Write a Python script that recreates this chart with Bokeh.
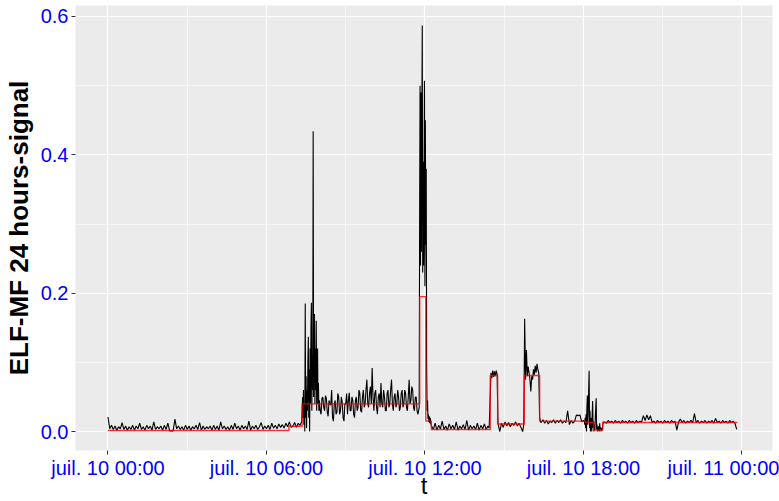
import numpy as np
from bokeh.plotting import figure
from bokeh.models import FixedTicker, Range1d
from bokeh.embed import file_html
from bokeh.resources import INLINE

# ---------------- data ----------------
x_ticks = [0, 6, 12, 18, 24]
x_minor = [3, 9, 15, 21]
x_tick_labels = ["juil. 10 00:00", "juil. 10 06:00", "juil. 10 12:00",
                 "juil. 10 18:00", "juil. 11 00:00"]
y_ticks = [0.0, 0.2, 0.4, 0.6]
y_minor = [0.1, 0.3, 0.5]

# black signal, in segments: start hour, step (minutes), values
night_start, night_step = 0.0, 4
night_vals = [
    0.021, 0.004, 0.009, 0.003, 0.008, 0.002, 0.007, 0.004, 0.013, 0.003, 0.008, 0.002, 0.007, 0.003, 0.009,
    0.002, 0.008, 0.004, 0.012, 0.003, 0.007, 0.002, 0.009, 0.004, 0.008, 0.002, 0.014, 0.003, 0.007, 0.004,
    0.008, 0.002, 0.009, 0.003, 0.012, 0.001, 0.001, 0.001, 0.018, 0.004, 0.008, 0.003, 0.007, 0.002, 0.009,
    0.003, 0.008, 0.002, 0.007, 0.004, 0.009, 0.003, 0.013, 0.002, 0.008, 0.003, 0.007, 0.004, 0.008, 0.002,
    0.009, 0.003, 0.008, 0.002, 0.014, 0.004, 0.008, 0.003, 0.007, 0.002, 0.009, 0.003, 0.012, 0.004, 0.008,
    0.002, 0.009, 0.004, 0.008, 0.003, 0.015, 0.002, 0.008, 0.004, 0.009, 0.003, 0.007, 0.013, 0.003, 0.008,
    0.004, 0.009, 0.003, 0.012, 0.005, 0.009, 0.004, 0.011, 0.006, 0.010, 0.005, 0.012, 0.007, 0.014, 0.006,
    0.008, 0.013, 0.006, 0.012, 0.009, 0.014,
]
rise_start, rise_step = 7.35, 1
rise_vals = [
    0.03, 0.05, 0.02, 0.06, 0.01, 0.04, 0.0, 0.185, 0.02, 0.08,
    0.005, 0.06, 0.03, 0.10, 0.137, 0.02, 0.09, 0.0, 0.12, 0.04,
    0.15, 0.186, 0.03, 0.11, 0.06, 0.434, 0.05, 0.14, 0.17, 0.04,
    0.12, 0.06, 0.16, 0.03, 0.10, 0.12, 0.04, 0.07, 0.03,
]
morning_start, morning_step = 8.0, 2
morning_vals = [
    0.045, 0.03, 0.025, 0.048, 0.05, 0.035, 0.03, 0.052, 0.048, 0.028,
    0.022, 0.045, 0.04, 0.038, 0.06, 0.02, 0.015, 0.04, 0.045, 0.025,
    0.028, 0.055, 0.05, 0.025, 0.03, 0.05, 0.042, 0.02, 0.015, 0.04,
    0.04, 0.055, 0.025, 0.045, 0.056, 0.03, 0.03, 0.05, 0.045, 0.025,
    0.02, 0.045, 0.05, 0.03, 0.035, 0.06, 0.055, 0.03, 0.028, 0.05,
    0.06, 0.035, 0.04, 0.06, 0.075, 0.04, 0.035, 0.055, 0.065, 0.04,
    0.092, 0.05, 0.03, 0.055, 0.06, 0.035, 0.025, 0.05, 0.055, 0.035,
    0.07, 0.04, 0.035, 0.06, 0.05, 0.03, 0.03, 0.055, 0.06, 0.035,
    0.04, 0.06, 0.075, 0.04, 0.03, 0.05, 0.055, 0.035, 0.04, 0.06,
    0.05, 0.03, 0.035, 0.055, 0.06, 0.035, 0.04, 0.06, 0.055, 0.035,
    0.03, 0.05, 0.075, 0.04, 0.045, 0.065, 0.06, 0.035, 0.03, 0.05,
    0.05, 0.03, 0.025,
]
noon_start, noon_step = 11.78, 1
noon_vals = [
    0.035, 0.30, 0.50, 0.24, 0.49, 0.26, 0.45, 0.587, 0.23, 0.39,
    0.24, 0.36, 0.507, 0.21, 0.45, 0.27, 0.38, 0.094, 0.03, 0.045,
    0.018, 0.025, 0.014, 0.022, 0.012, 0.02, 0.015, 0.01,
]
after_start, after_step = 12.25, 4
after_vals = [
    0.008, 0.003, 0.012, 0.002, 0.009, 0.004, 0.015, 0.003, 0.008, 0.002, 0.011,
    0.004, 0.009, 0.003, 0.014, 0.002, 0.008, 0.004, 0.010, 0.003, 0.016, 0.002,
    0.009, 0.004, 0.008, 0.003, 0.012, 0.002, 0.009, 0.004, 0.011, 0.003, 0.008,
]
plat1_start, plat1_step = 14.43, 2
plat1_vals = [0.005, 0.045, 0.085, 0.077, 0.088, 0.079, 0.087, 0.08, 0.088, 0.083, 0.012, 0.006]
gap_start, gap_step = 14.83, 4
gap_vals = [0.0, 0.012, 0.006, 0.014, 0.008, 0.013, 0.007, 0.012, 0.009, 0.014, 0.008, 0.012, 0.006, 0.0]
plat2_start, plat2_step = 15.74, 2
plat2_vals = [0.01, 0.163, 0.075, 0.118, 0.08, 0.094, 0.085, 0.075, 0.058, 0.08,
              0.075, 0.09, 0.082, 0.095, 0.085, 0.098, 0.09, 0.085, 0.02, 0.014]
late_start, late_step = 16.4, 4
late_vals = [
    0.013, 0.017, 0.012, 0.016, 0.011, 0.015, 0.013, 0.017, 0.012, 0.016, 0.013, 0.017, 0.012,
    0.015, 0.013, 0.03, 0.01, 0.016, 0.012, 0.015, 0.024, 0.023, 0.024, 0.014, 0.016,
]
burst_start, burst_step = 18.03, 1
burst_vals = [
    0.015, 0.01, 0.02, 0.005, 0.025, 0.0, 0.035, 0.052, 0.01, 0.03,
    0.06, 0.088, 0.005, 0.03, 0.0, 0.02, 0.012, 0.0, 0.025, 0.044,
    0.005, 0.015, 0.0, 0.01, 0.002, 0.02, 0.035, 0.048, 0.003, 0.01,
    0.0, 0.006, 0.002, 0.008, 0.0, 0.012, 0.003, 0.006, 0.0, 0.005,
    0.002, 0.004, 0.01, 0.014, 0.013,
]
night2_start, night2_step = 18.8, 4
night2_vals = [
    0.014, 0.012, 0.016, 0.013, 0.015, 0.012, 0.016, 0.013, 0.015, 0.012,
    0.016, 0.013, 0.015, 0.012, 0.016, 0.013, 0.015, 0.012, 0.016, 0.013,
    0.015, 0.014, 0.023, 0.016, 0.024, 0.017, 0.023, 0.013, 0.015, 0.012,
    0.016, 0.013, 0.015, 0.012, 0.016, 0.013, 0.015, 0.012, 0.016, 0.013,
    0.015, 0.002, 0.014, 0.018, 0.013, 0.016, 0.012, 0.015, 0.013, 0.016,
    0.013, 0.026, 0.013, 0.016, 0.012, 0.015, 0.013, 0.016, 0.012, 0.015,
    0.013, 0.016, 0.012, 0.019, 0.013, 0.015, 0.012, 0.016, 0.013, 0.015,
    0.012, 0.016, 0.013, 0.015, 0.012, 0.003,
]

# red step series (segment mean levels)
red_edges = [0.0, 6.85, 7.35, 11.80, 12.03, 12.24, 14.47, 14.75, 15.76, 16.34, 18.07, 18.39, 18.73, 23.82]
red_levels = [0.0015, 0.0077, 0.040, 0.195, 0.015, 0.003, 0.081, 0.011, 0.081, 0.015, 0.0135, 0.002, 0.013]

# ---------------- build series ----------------
segments = [
    (night_start, night_step, night_vals), (rise_start, rise_step, rise_vals),
    (morning_start, morning_step, morning_vals), (noon_start, noon_step, noon_vals),
    (after_start, after_step, after_vals), (plat1_start, plat1_step, plat1_vals),
    (gap_start, gap_step, gap_vals), (plat2_start, plat2_step, plat2_vals),
    (late_start, late_step, late_vals), (burst_start, burst_step, burst_vals),
    (night2_start, night2_step, night2_vals),
]
sig_t, sig_v = [], []
for start, step, vals in segments:
    sig_t.extend(start + np.arange(len(vals)) * step / 60.0)
    sig_v.extend(vals)

red_x, red_y = [], []
for k, lv in enumerate(red_levels):
    red_x += [red_edges[k], red_edges[k + 1]]
    red_y += [lv, lv]

# ---------------- figure ----------------
p = figure(width=779, height=501, output_backend="svg", toolbar_location=None,
           x_range=Range1d(-1.230, 25.155), y_range=Range1d(-0.0274, 0.61587),
           min_border_left=75, min_border_right=7, min_border_top=5, min_border_bottom=50)
p.background_fill_color = "#EBEBEB"
p.border_fill_color = "white"
p.outline_line_color = None

p.line(sig_t, sig_v, line_color="black", line_width=1.1)
p.line(red_x, red_y, line_color="red", line_width=1.4, line_alpha=0.8)

p.xaxis.ticker = FixedTicker(ticks=x_ticks, minor_ticks=x_minor)
p.yaxis.ticker = FixedTicker(ticks=y_ticks, minor_ticks=y_minor)
p.xaxis.major_label_overrides = {t: lab for t, lab in zip(x_ticks, x_tick_labels)}
p.yaxis.major_label_overrides = {t: f"{t:.1f}" for t in y_ticks}

for ax in (p.xaxis[0], p.yaxis[0]):
    ax.axis_line_color = None
    ax.major_tick_line_color = "#333333"
    ax.major_tick_line_width = 1
    ax.major_tick_out = 4
    ax.major_tick_in = 0
    ax.minor_tick_out = 0
    ax.minor_tick_in = 0
    ax.major_label_text_color = "blue"
    ax.major_label_text_font = "Liberation Sans"
    ax.major_label_text_font_size = "20px"

p.xaxis.major_label_standoff = 2
p.yaxis.major_label_standoff = 3

p.xaxis.axis_label = "t"
p.xaxis.axis_label_text_font = "Liberation Sans"
p.xaxis.axis_label_text_font_style = "normal"
p.xaxis.axis_label_text_font_size = "24px"
p.xaxis.axis_label_text_color = "black"
p.xaxis.axis_label_standoff = -10

p.yaxis.axis_label = "ELF-MF 24 hours-signal"
p.yaxis.axis_label_text_font = "Liberation Sans"
p.yaxis.axis_label_text_font_style = "bold"
p.yaxis.axis_label_text_font_size = "26px"
p.yaxis.axis_label_text_color = "black"
p.yaxis.axis_label_standoff = 4

for g in (p.xgrid[0], p.ygrid[0]):
    g.grid_line_color = "white"
    g.grid_line_width = 1.2
    g.minor_grid_line_color = "white"
    g.minor_grid_line_width = 0.6

open("out.html", "w").write(file_html(p, INLINE))
